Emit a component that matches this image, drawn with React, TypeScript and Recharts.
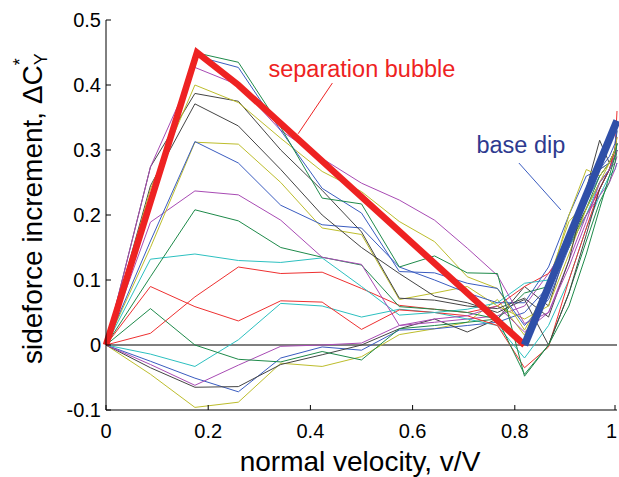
import { LineChart, Line, XAxis, YAxis, ReferenceLine, ReferenceDot } from 'recharts';

// normal velocity ratio v/V at each measured station
const VELOCITY = [0, 0.087, 0.174, 0.259, 0.342, 0.423, 0.5, 0.574, 0.643, 0.707, 0.766, 0.819, 0.866, 0.906, 0.94, 0.966, 0.985, 0.996, 1];

// sideforce increment for each run, one value per station
const blueTop = [0, 0.22, 0.445, 0.427, 0.33, 0.241, 0.203, 0.113, 0.111, 0.095, 0.087, 0.03, 0.07, 0.15, 0.23, 0.27, 0.29, 0.31, 0.33];
const greenTop = [0, 0.23, 0.45, 0.435, 0.335, 0.226, 0.217, 0.12, 0.137, 0.111, 0.11, -0.048, 0, 0.06, 0.14, 0.21, 0.26, 0.29, 0.31];
const magentaTop = [0, 0.274, 0.427, 0.4, 0.33, 0.287, 0.249, 0.223, 0.192, 0.149, 0.107, 0.033, 0.05, 0.12, 0.19, 0.25, 0.27, 0.29, 0.3];
const yellowTop = [0, 0.24, 0.4, 0.373, 0.318, 0.267, 0.236, 0.19, 0.159, 0.105, 0.087, 0.023, 0.09, 0.2, 0.27, 0.26, 0.28, 0.3, 0.32];
const blackTop = [0, 0.274, 0.387, 0.375, 0.3, 0.238, 0.174, 0.072, 0.069, 0.06, 0.056, 0.072, 0.043, 0.13, 0.24, 0.315, 0.28, 0.3, 0.33];
const blackMid = [0, 0.245, 0.371, 0.337, 0.27, 0.2, 0.15, 0.11, 0.075, 0.065, 0.05, 0.07, 0, 0.08, 0.17, 0.24, 0.27, 0.29, 0.3];
const blueMid = [0, 0.16, 0.313, 0.28, 0.215, 0.185, 0.18, 0.12, 0.1, 0.08, 0.065, 0.065, 0.12, 0.2, 0.26, 0.27, 0.28, 0.3, 0.31];
const yellowMid = [0, 0.15, 0.312, 0.309, 0.25, 0.18, 0.17, 0.07, 0.08, 0.09, 0.06, 0.04, 0.06, 0.14, 0.21, 0.25, 0.28, 0.3, 0.31];
const magentaMid = [0, 0.189, 0.237, 0.231, 0.192, 0.135, 0.124, 0.03, 0.04, 0.045, 0.06, 0.02, 0.05, 0.13, 0.2, 0.23, 0.25, 0.27, 0.28];
const greenMid = [0, 0.105, 0.208, 0.191, 0.15, 0.135, 0.123, 0.059, 0.055, 0.05, 0.04, -0.045, 0, 0.08, 0.16, 0.22, 0.25, 0.28, 0.3];
const cyanMid = [0, 0.132, 0.14, 0.13, 0.127, 0.134, 0.09, 0.046, 0.05, 0.055, 0.065, 0.095, 0.1, 0.15, 0.2, 0.25, 0.27, 0.29, 0.3];
const redLow = [0, 0.09, 0.059, 0.037, 0.068, 0.066, 0.024, 0.054, 0.05, 0.045, 0.03, -0.035, -0.003, 0.1, 0.18, 0.24, 0.27, 0.3, 0.36];
const redMid = [0, 0.018, 0.074, 0.12, 0.11, 0.112, 0.087, 0.061, 0.055, 0.05, 0.06, 0.09, 0.11, 0.15, 0.2, 0.24, 0.27, 0.3, 0.32];
const greenLow = [0, 0.056, 0, -0.022, -0.026, -0.01, -0.023, 0.025, 0.03, 0.035, 0.04, 0.08, 0.09, 0.15, 0.21, 0.26, 0.28, 0.3, 0.31];
const cyanLow = [0, -0.014, -0.033, 0.008, 0.064, 0.06, 0.043, 0.055, 0.05, 0.04, 0.03, -0.02, 0.03, 0.1, 0.18, 0.23, 0.26, 0.27, 0.28];
const magentaLow = [0, -0.03, -0.062, -0.031, -0.002, 0, 0.003, 0.03, 0.035, 0.04, 0.045, 0.06, 0.11, 0.16, 0.2, 0.24, 0.27, 0.28, 0.29];
const blackLow = [0, -0.035, -0.065, -0.064, -0.03, -0.015, 0, 0.025, 0.04, 0.02, 0.04, 0.09, 0.06, 0.16, 0.21, 0.25, 0.27, 0.29, 0.31];
const blueLow = [0, -0.025, -0.051, -0.072, -0.02, -0.003, -0.008, 0.023, 0.025, 0.03, 0.035, 0.05, 0.09, 0.16, 0.22, 0.26, 0.28, 0.29, 0.3];
const yellowLow = [0, -0.045, -0.096, -0.088, -0.028, -0.033, -0.018, 0.016, 0.025, 0.035, 0.07, 0.015, 0.1, 0.19, 0.22, 0.27, 0.28, 0.3, 0.31];

// idealised trends drawn over the runs
const bubbleX = [0, 0.178, 0.259, 0.819];
const bubbleY = [0, 0.45, 0.4, 0];
const dipX = [0.819, 1];
const dipY = [0, 0.345];

const X_TICKS = [0, 0.2, 0.4, 0.6, 0.8, 1];
const Y_TICKS = [-0.1, 0, 0.1, 0.2, 0.3, 0.4, 0.5];

const C = {
  b: '#3a5cc0',
  g: '#1e8a4a',
  r: '#ee3030',
  c: '#2cc0c0',
  m: '#a84bb4',
  y: '#bdbd2c',
  k: '#444444',
};

const runs = [
  { name: 'yellowLow', values: yellowLow, color: C.y },
  { name: 'blueLow', values: blueLow, color: C.b },
  { name: 'blackLow', values: blackLow, color: C.k },
  { name: 'magentaLow', values: magentaLow, color: C.m },
  { name: 'cyanLow', values: cyanLow, color: C.c },
  { name: 'greenLow', values: greenLow, color: C.g },
  { name: 'redMid', values: redMid, color: C.r },
  { name: 'redLow', values: redLow, color: C.r },
  { name: 'cyanMid', values: cyanMid, color: C.c },
  { name: 'greenMid', values: greenMid, color: C.g },
  { name: 'magentaMid', values: magentaMid, color: C.m },
  { name: 'yellowMid', values: yellowMid, color: C.y },
  { name: 'blueMid', values: blueMid, color: C.b },
  { name: 'blackMid', values: blackMid, color: C.k },
  { name: 'blackTop', values: blackTop, color: C.k },
  { name: 'yellowTop', values: yellowTop, color: C.y },
  { name: 'magentaTop', values: magentaTop, color: C.m },
  { name: 'blueTop', values: blueTop, color: C.b },
  { name: 'greenTop', values: greenTop, color: C.g },
];

const toPoints = (xs: number[], ys: number[]) => xs.map((x, i) => ({ x, y: ys[i] }));

const FONT = '"Liberation Sans", Arial, Helvetica, sans-serif';
const TICK = 5;

const BottomTick = ({ x, y, payload }: any) => {
  // the last label would spill past the right edge, so pin it to its end
  const last = payload.value === 1;
  return (
    <g>
      <line x1={x} y1={y} x2={x} y2={y - TICK} stroke="#000" />
      <text
        x={last ? x + 2 : x}
        y={y + 28}
        textAnchor={last ? 'end' : 'middle'}
        fontSize={20}
        fontFamily={FONT}
        fill="#000"
      >
        {String(payload.value)}
      </text>
    </g>
  );
};

const TopTick = ({ x, y }: any) => <line x1={x} y1={y} x2={x} y2={y + TICK} stroke="#000" />;

const LeftTick = ({ x, y, payload }: any) => (
  <g>
    <line x1={x} y1={y} x2={x + TICK} y2={y} stroke="#000" />
    <text x={x - 5} y={y + 7} textAnchor="end" fontSize={20} fontFamily={FONT} fill="#000">
      {String(payload.value)}
    </text>
  </g>
);

const RightTick = ({ x, y }: any) => <line x1={x} y1={y} x2={x - TICK} y2={y} stroke="#000" />;

const YTitle = () => (
  <text transform="translate(42, 364) rotate(-90)" fontSize={28} fontFamily={FONT} fill="#000">
    sideforce increment, ΔC
    <tspan dy={5} fontSize={18}>Y</tspan>
    <tspan dx={-12} dy={-21} fontSize={18}>*</tspan>
  </text>
);

const XTitle = () => (
  <text x={360} y={471} textAnchor="middle" fontSize={28} fontFamily={FONT} fill="#000">
    normal velocity, v/V
  </text>
);

const Note = (text: string, color: string) => (props: any) => (
  <text x={props.cx} y={props.cy} fontSize={23.5} fontFamily={FONT} fill={color}>
    {text}
  </text>
);

export default function App() {
  return (
    <div style={{ position: 'fixed', left: 0, top: 0, background: '#fff' }}>
      <LineChart width={619} height={477} margin={{ top: 20, right: 2, bottom: 37, left: 66 }}>
        <XAxis
          xAxisId={0}
          dataKey="x"
          type="number"
          domain={[0, 1]}
          ticks={X_TICKS}
          height={30}
          tickSize={0}
          tickMargin={0}
          tickLine={false}
          axisLine={{ stroke: '#000' }}
          tick={<BottomTick />}
          label={{ content: () => <XTitle /> }}
          allowDuplicatedCategory={false}
        />
        <XAxis
          xAxisId="top"
          orientation="top"
          dataKey="x"
          type="number"
          domain={[0, 1]}
          ticks={X_TICKS}
          height={0}
          tickSize={0}
          tickMargin={0}
          tickLine={false}
          axisLine={{ stroke: '#000' }}
          tick={<TopTick />}
        />
        <YAxis
          yAxisId={0}
          type="number"
          domain={[-0.1, 0.5]}
          ticks={Y_TICKS}
          width={40}
          tickSize={0}
          tickMargin={0}
          tickLine={false}
          axisLine={{ stroke: '#000' }}
          tick={<LeftTick />}
          label={{ content: () => <YTitle /> }}
        />
        <YAxis
          yAxisId="right"
          orientation="right"
          type="number"
          domain={[-0.1, 0.5]}
          ticks={Y_TICKS}
          width={0}
          tickSize={0}
          tickMargin={0}
          tickLine={false}
          axisLine={{ stroke: '#000' }}
          tick={<RightTick />}
        />

        <ReferenceLine y={0} stroke="#555" strokeWidth={1.5} />

        {runs.map((run) => (
          <Line
            key={run.name}
            data={toPoints(VELOCITY, run.values)}
            dataKey="y"
            stroke={run.color}
            strokeWidth={1}
            dot={false}
            isAnimationActive={false}
          />
        ))}

        <Line
          data={toPoints(bubbleX, bubbleY)}
          dataKey="y"
          stroke="#ee2222"
          strokeWidth={6.5}
          strokeLinejoin="miter"
          dot={false}
          isAnimationActive={false}
        />
        <Line
          data={toPoints(dipX, dipY)}
          dataKey="y"
          stroke="#2f4fa8"
          strokeWidth={7.5}
          dot={false}
          isAnimationActive={false}
        />

        {/* annotation leaders and captions */}
        <ReferenceLine
          segment={[{ x: 0.443, y: 0.403 }, { x: 0.376, y: 0.325 }]}
          stroke="#ee2222"
          strokeWidth={1}
        />
        <ReferenceLine
          segment={[{ x: 0.808, y: 0.28 }, { x: 0.89, y: 0.208 }]}
          stroke="#3a5cc0"
          strokeWidth={1}
        />
        <ReferenceDot x={0.318} y={0.413} r={0} shape={Note('separation bubble', '#ee2222')} />
        <ReferenceDot x={0.725} y={0.295} r={0} shape={Note('base dip', '#2e3a8f')} />
      </LineChart>
    </div>
  );
}
